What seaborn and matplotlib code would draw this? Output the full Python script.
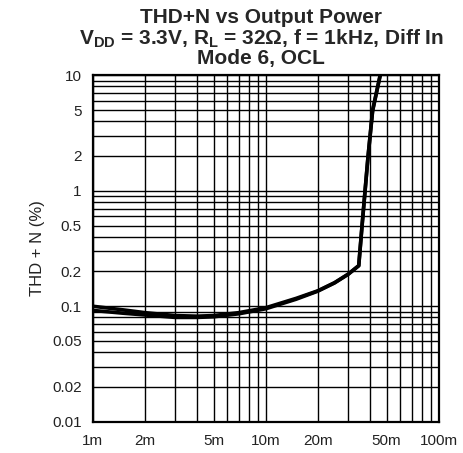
import numpy as np
import pandas as pd
import matplotlib
matplotlib.use("Agg")
import matplotlib.pyplot as plt
from matplotlib.ticker import FixedLocator, LogLocator, NullFormatter
import seaborn as sns

# output power (W) and THD+N (%)
power = [0.001, 0.0015, 0.002, 0.003, 0.004, 0.005, 0.007, 0.010, 0.015,
         0.020, 0.025, 0.030, 0.0345, 0.036, 0.039, 0.0415, 0.0465]
thd_a = [0.100, 0.093, 0.088, 0.083, 0.082, 0.083, 0.088, 0.097, 0.117,
         0.136, 0.160, 0.190, 0.225, 0.49, 1.95, 5.0, 11.0]
thd_b = [0.092, 0.087, 0.084, 0.080, 0.080, 0.081, 0.086, 0.095, 0.115,
         0.135, 0.159, 0.189, 0.224, 0.48, 1.93, 4.9, 10.9]

xticks = [0.001, 0.002, 0.005, 0.01, 0.02, 0.05, 0.1]
xlabels = ["1m", "2m", "5m", "10m", "20m", "50m", "100m"]
yticks = [0.01, 0.02, 0.05, 0.1, 0.2, 0.5, 1, 2, 5, 10]
ylabels = ["0.01", "0.02", "0.05", "0.1", "0.2", "0.5", "1", "2", "5", "10"]

title_lines = [
    "THD+N vs Output Power",
    r"$\mathbf{V_{DD}}$ = 3.3V, $\mathbf{R_L}$ = 32Ω, f = 1kHz, Diff In",
    "Mode 6, OCL",
]

df = pd.concat([
    pd.DataFrame({"P": power, "THD": thd_a, "run": "a"}),
    pd.DataFrame({"P": power, "THD": thd_b, "run": "b"}),
])

sns.set_style("white")
plt.rcParams["font.family"] = ["Liberation Sans", "DejaVu Sans"]
plt.rcParams["mathtext.fontset"] = "custom"
plt.rcParams["mathtext.bf"] = "Liberation Sans:bold"
plt.rcParams["mathtext.rm"] = "Liberation Sans"

fig = plt.figure(figsize=(4.63, 4.53), dpi=100)
ax = fig.add_axes([0.2002, 0.0691, 0.7473, 0.7647])

sns.lineplot(data=df, x="P", y="THD", hue="run", palette=["black", "black"],
             linewidth=2.6, legend=False, ax=ax, sort=False)

ax.set_xscale("log")
ax.set_yscale("log")
ax.set_xlim(0.001, 0.1)
ax.set_ylim(0.01, 10)

ax.xaxis.set_major_locator(FixedLocator(xticks))
ax.set_xticklabels(xlabels)
ax.yaxis.set_major_locator(FixedLocator(yticks))
ax.set_yticklabels(ylabels)
ax.xaxis.set_minor_locator(LogLocator(base=10, subs=range(2, 10)))
ax.yaxis.set_minor_locator(LogLocator(base=10, subs=range(2, 10)))
ax.xaxis.set_minor_formatter(NullFormatter())
ax.yaxis.set_minor_formatter(NullFormatter())
ax.tick_params(which="both", length=0, labelsize=11, colors="#222222")
ax.tick_params(axis="x", pad=9)
ax.tick_params(axis="y", pad=8)
ax.grid(True, which="both", color="black", linewidth=1.0)
ax.set_axisbelow(True)
for s in ax.spines.values():
    s.set_color("black")
    s.set_linewidth(1.6)

ax.set_xlabel("")
ax.set_ylabel("THD + N (%)", fontsize=12, labelpad=5, color="#222222")

for y, line in zip([0.9492, 0.9007, 0.8590], title_lines):
    fig.text(0.564, y, line, ha="center", va="baseline",
             fontsize=15, fontweight="bold")

fig.savefig("out.png", dpi=100)
